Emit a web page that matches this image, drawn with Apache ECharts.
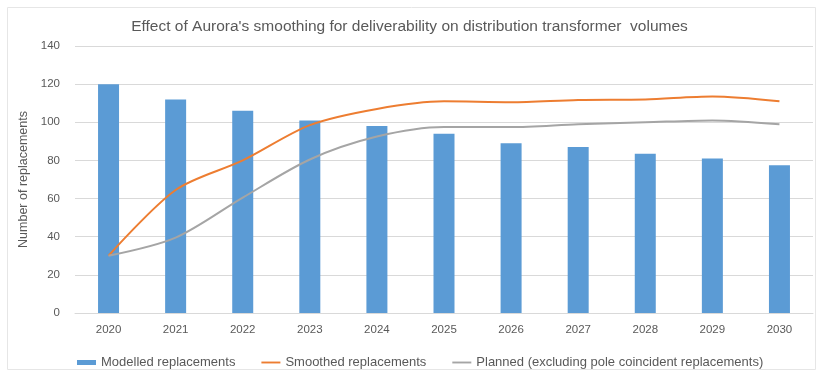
<!DOCTYPE html>
<html>
<head>
<meta charset="utf-8">
<script src="https://cdn.jsdelivr.net/npm/echarts@6/dist/echarts.min.js"></script>
<style>
  html, body { margin: 0; padding: 0; background: #fff; }
  #chart { width: 819px; height: 375px; }
</style>
</head>
<body>
<div id="chart"></div>
<script>
// Distribution transformer replacement volumes, 2020-2030
const years = ['2020', '2021', '2022', '2023', '2024', '2025', '2026', '2027', '2028', '2029', '2030'];
const modelled = [120, 112, 106, 101, 98, 94, 89, 87, 83.5, 81, 77.5];
const smoothed = [30, 64.5, 80, 98.5, 107, 111, 110.5, 111.7, 112, 113.5, 111];
const planned = [30, 39.5, 60.5, 80.5, 92.5, 97.5, 97.5, 99, 100, 101, 99];
const yTicks = { min: 0, max: 140, interval: 20 };

const font = 'Liberation Sans';
const textGrey = '#595959';
// thin horizontal stroke used as the legend marker of the line series
const lineIcon = 'path://M0,0H20V2H0Z';

const chart = echarts.init(document.getElementById('chart'));
chart.setOption({
  animation: false,
  textStyle: { fontFamily: font },
  title: {
    text: "Effect of Aurora's smoothing for deliverability on distribution transformer  volumes",
    left: 'center',
    top: 14,
    textStyle: { fontFamily: font, fontSize: 15.5, fontWeight: 'normal', color: textGrey }
  },
  graphic: [{
    type: 'rect',
    shape: { x: 7.5, y: 7.5, width: 808, height: 362 },
    style: { fill: 'none', stroke: '#e6e6e6', lineWidth: 1 },
    silent: true
  }],
  legend: {
    left: 72,
    top: 351,
    itemGap: 26,
    itemWidth: 19,
    itemHeight: 5,
    textStyle: { fontFamily: font, fontSize: 13, color: textGrey },
    data: [
      { name: 'Modelled replacements', icon: 'rect' },
      { name: 'Smoothed replacements', icon: lineIcon },
      { name: 'Planned (excluding pole coincident replacements)', icon: lineIcon }
    ]
  },
  grid: { left: 75, right: 6, top: 46, bottom: 62 },
  xAxis: {
    type: 'category',
    data: years,
    axisLine: { lineStyle: { color: '#d9d9d9' } },
    axisTick: { show: false },
    axisLabel: { color: textGrey, fontSize: 11.5, margin: 11 }
  },
  yAxis: {
    type: 'value',
    min: yTicks.min,
    max: yTicks.max,
    interval: yTicks.interval,
    name: 'Number of replacements',
    nameLocation: 'middle',
    nameGap: 34,
    nameTextStyle: { color: textGrey, fontSize: 12.5 },
    axisLine: { show: false },
    axisTick: { show: false },
    axisLabel: { color: textGrey, fontSize: 11.5, margin: 15 },
    splitLine: { lineStyle: { color: '#d9d9d9' } }
  },
  series: [
    {
      name: 'Modelled replacements',
      type: 'bar',
      data: modelled,
      barWidth: 21,
      itemStyle: { color: '#5b9bd5' }
    },
    {
      name: 'Smoothed replacements',
      type: 'line',
      data: smoothed,
      smooth: 0.3,
      symbol: 'none',
      lineStyle: { color: '#ed7d31', width: 2 },
      itemStyle: { color: '#ed7d31' }
    },
    {
      name: 'Planned (excluding pole coincident replacements)',
      type: 'line',
      data: planned,
      smooth: 0.3,
      symbol: 'none',
      lineStyle: { color: '#a5a5a5', width: 2 },
      itemStyle: { color: '#a5a5a5' }
    }
  ]
});
</script>
</body>
</html>
